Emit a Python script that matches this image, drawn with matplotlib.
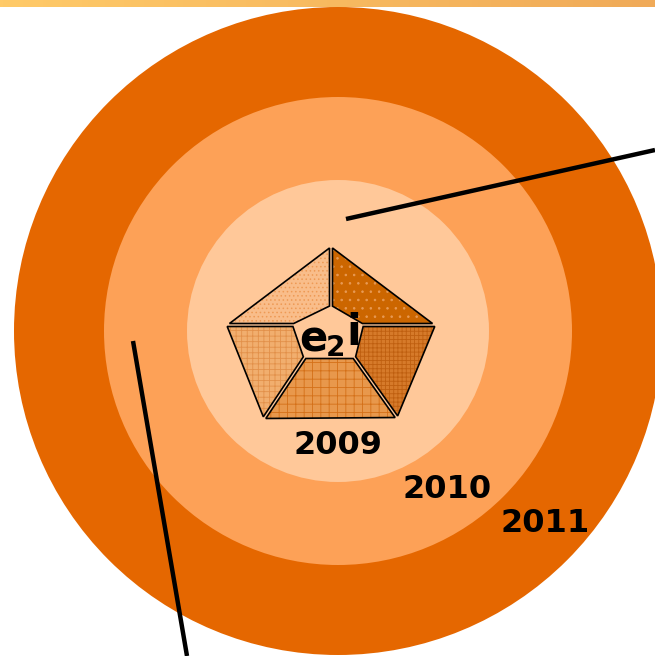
import matplotlib
matplotlib.use("Agg")
import matplotlib.pyplot as plt
import numpy as np
from matplotlib.patches import Circle, Polygon
from matplotlib.colors import to_rgb

# rings, outermost first
ring_years = ["2011", "2010", "2009"]
ring_radius = [324, 234, 151]
ring_colors = ["#e56700", "#fda157", "#ffc899"]

# year labels (text, x, y)
label_years = ["2009", "2010", "2011"]
label_x = [338, 447, 545]
label_y = [445, 489, 523]

# logo pentagon, outer and inner corners: top, upper-left, upper-right, lower-left, lower-right
outer_pts = {"t": (331, 245), "ul": (225, 325), "ur": (437, 325),
             "ll": (263, 420), "lr": (398, 419)}
inner_pts = {"t": (331, 307), "ul": (294, 325), "ur": (362, 325),
             "ll": (305, 357), "lr": (354, 357)}
piece_names = ["top-left", "top-right", "right", "bottom", "left"]
piece_colors = ["#f9bd8a", "#cc6600", "#d67a2a", "#e8984c", "#f1ae6e"]
piece_hatch_colors = ["#ee9a55", "#e89a55", "#bf5f10", "#d47018", "#e2904a"]
piece_hatches = ["....", "..", "++++", "++", "+++"]

# line pointers
pointer_a = [(346, 219), (655, 150)]
pointer_b = [(133, 341), (187, 656)]

W, H = 655, 656
fig = plt.figure(figsize=(W / 100, H / 100), dpi=100)
ax = fig.add_axes([0, 0, 1, 1])
ax.set_xlim(0, W)
ax.set_ylim(H, 0)
ax.axis("off")

# gradient strip at the top
c1 = np.array(to_rgb("#ffca68"))
c2 = np.array(to_rgb("#f0aa58"))
t = np.linspace(0, 1, 200)[None, :, None]
grad = c1 + (c2 - c1) * t
ax.imshow(grad, extent=[0, W, 7, 0], aspect="auto", zorder=1)

cx, cy = 338, 331
for r, col in zip(ring_radius, ring_colors):
    ax.add_patch(Circle((cx, cy), r, facecolor=col, edgecolor="none", zorder=2))

O, I = outer_pts, inner_pts
pieces = [
    [O["t"], O["ul"], I["ul"], I["t"]],
    [O["t"], I["t"], I["ur"], O["ur"]],
    [O["ur"], I["ur"], I["lr"], O["lr"]],
    [I["ll"], I["lr"], O["lr"], O["ll"]],
    [O["ul"], I["ul"], I["ll"], O["ll"]],
]


def inset(pts, d=1.5):
    # move every edge of a convex polygon inwards by d
    p = np.array(pts, dtype=float)
    n = len(p)
    c = p.mean(axis=0)
    lines = []
    for i in range(n):
        a, b = p[i], p[(i + 1) % n]
        e = b - a
        nrm = np.array([-e[1], e[0]]) / np.hypot(*e)
        if np.dot(c - a, nrm) < 0:
            nrm = -nrm
        lines.append((a + nrm * d, e))
    out = []
    for i in range(n):
        (a1, e1), (a2, e2) = lines[i - 1], lines[i]
        m = np.array([e1, -e2]).T
        s = np.linalg.solve(m, a2 - a1)
        out.append(a1 + e1 * s[0])
    return out


plt.rcParams["hatch.linewidth"] = 0.6
for pts, fc, hc, h in zip(pieces, piece_colors, piece_hatch_colors, piece_hatches):
    poly = inset(pts)
    ax.add_patch(Polygon(poly, closed=True, facecolor=fc, edgecolor="none", zorder=3))
    ax.add_patch(Polygon(poly, closed=True, facecolor="none", edgecolor=hc,
                         hatch=h, linewidth=0, zorder=4))
    ax.add_patch(Polygon(poly, closed=True, facecolor="none", edgecolor="black",
                         linewidth=1.2, joinstyle="miter", zorder=5))

# e2i logo text
ax.text(313, 339, "e", fontsize=30, fontweight="bold", ha="center", va="center",
        color="black", zorder=6)
ax.text(335, 348, "2", fontsize=20, fontweight="bold", ha="center", va="center",
        color="black", zorder=6)
ax.text(354, 333, "i", fontsize=31, fontweight="bold", ha="center", va="center",
        color="black", zorder=6)

for txt, x, y in zip(label_years, label_x, label_y):
    ax.text(x, y, txt, fontsize=23, fontweight="bold", ha="center", va="center",
            color="black", zorder=6)

for seg in (pointer_a, pointer_b):
    xs, ys = zip(*seg)
    ax.plot(xs, ys, color="black", linewidth=3.2, solid_capstyle="butt", zorder=7)

fig.savefig("out.png", dpi=100)
